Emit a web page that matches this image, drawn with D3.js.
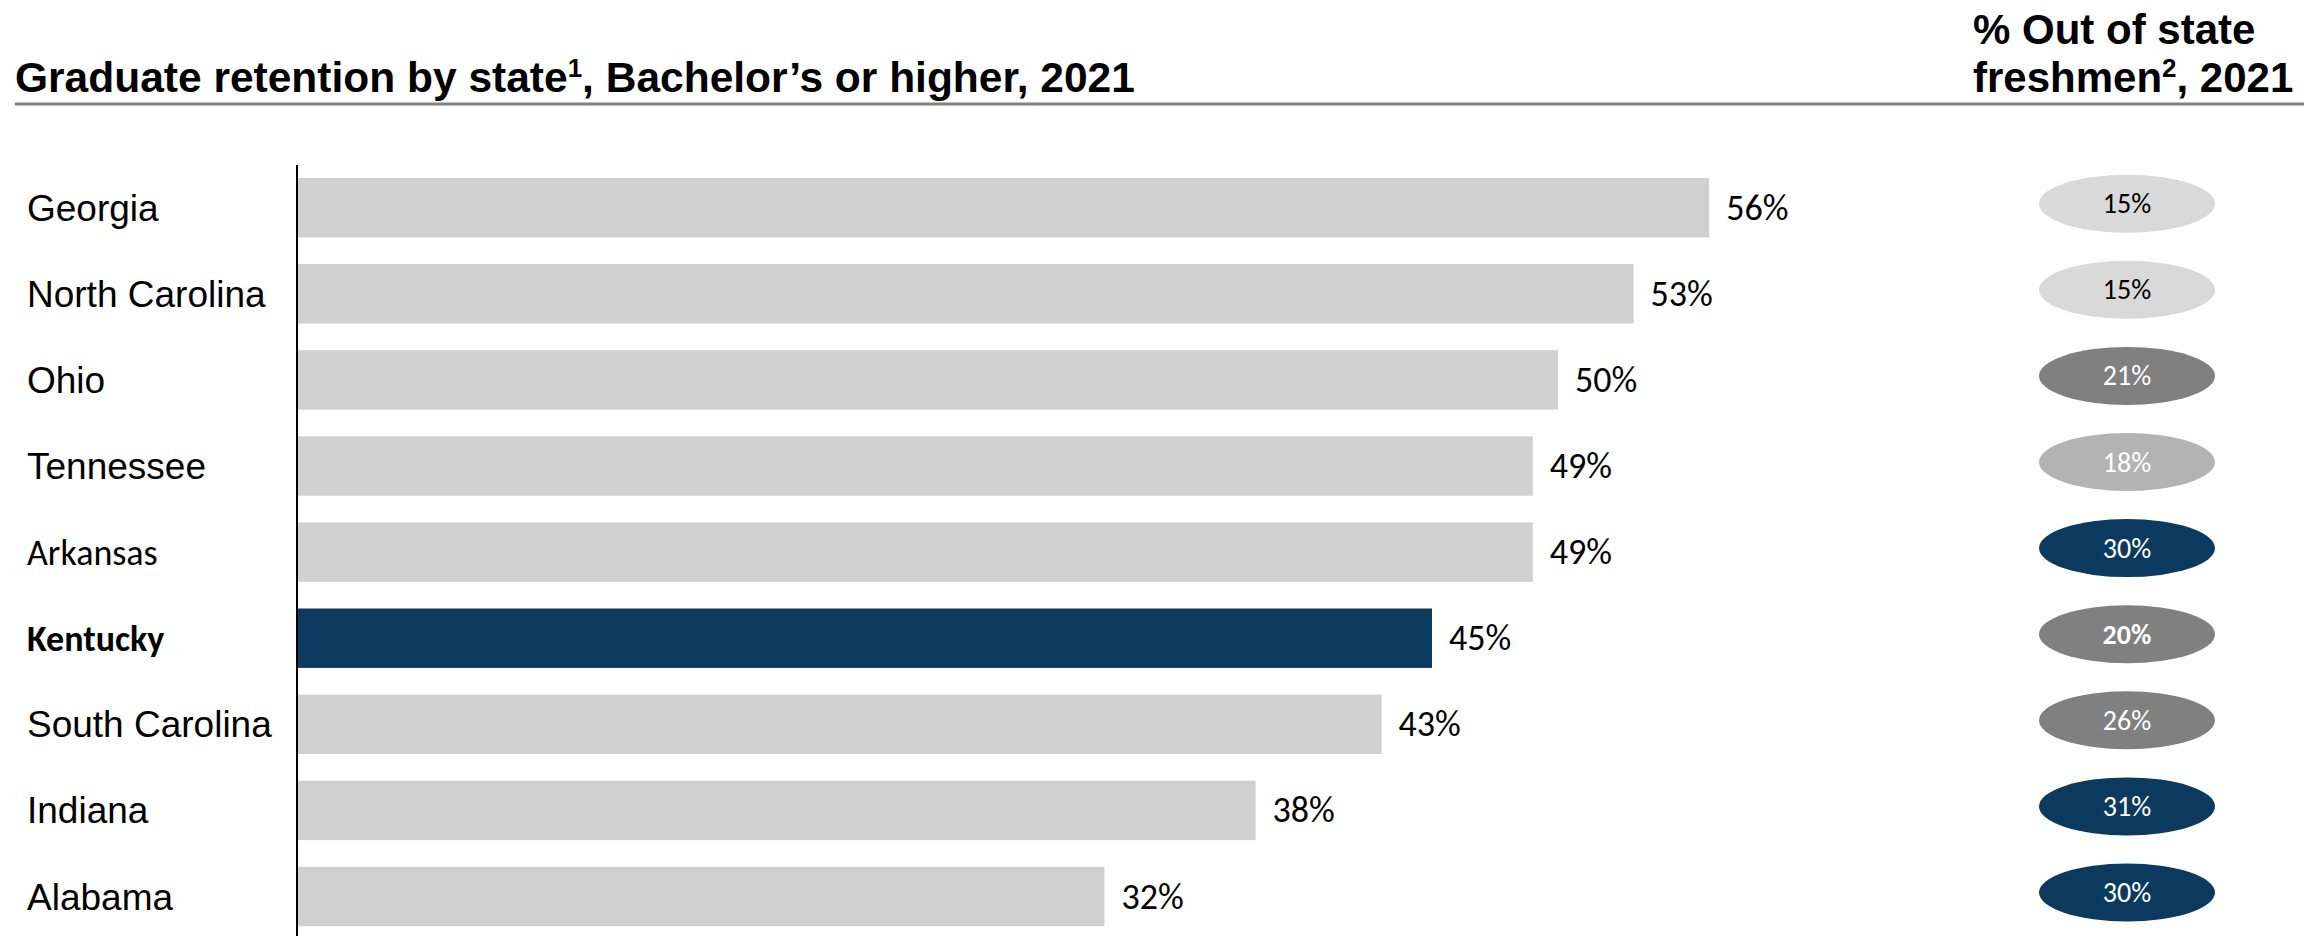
<!DOCTYPE html>
<html>
<head>
<meta charset="utf-8">
<script src="https://cdn.jsdelivr.net/npm/d3@7"></script>
<style>
  html, body { margin: 0; padding: 0; background: #ffffff; }
  svg { display: block; }
</style>
</head>
<body>
<script>
// Graduate retention by state (Bachelor's or higher, 2021) with share of out-of-state freshmen
const states = ["Georgia", "North Carolina", "Ohio", "Tennessee", "Arkansas", "Kentucky", "South Carolina", "Indiana", "Alabama"];
const retention = [56, 53, 50, 49, 49, 45, 43, 38, 32];
const outOfState = [15, 15, 21, 18, 30, 20, 26, 31, 30];
const highlight = "Kentucky";
const calibriStates = ["Arkansas", "Kentucky"];

const W = 2323, H = 936;
const navy = "#0b3a5e";
const sansArial = "'Liberation Sans', Arial, sans-serif";
const sansCal = "Carlito, Calibri, Lato, sans-serif";

const rows = states.map((s, i) => ({ state: s, ret: retention[i], oos: outOfState[i] }));

const svg = d3.select("body").append("svg")
  .attr("width", W).attr("height", H);

// scales
const x = d3.scaleLinear().domain([0, 60]).range([298, 298 + 60 * 25.2]);
const y = d3.scaleBand().domain(states)
  .range([164.65, 939.55]).paddingInner(0.31).paddingOuter(0.155);
const ovalFill = d3.scaleThreshold().domain([16, 19, 28])
  .range(["#d9d9d9", "#b3b3b3", "#808080", navy]);
const ovalText = d3.scaleThreshold().domain([16])
  .range(["#000000", "#ffffff"]);

// headers
const title = svg.append("text")
  .attr("x", 15).attr("y", 92)
  .attr("font-family", sansArial).attr("font-weight", "bold")
  .attr("font-size", 42.5).attr("fill", "#000");
title.append("tspan").text("Graduate retention by state");
title.append("tspan").attr("baseline-shift", "super").attr("font-size", 26).text("1");
title.append("tspan").text(", Bachelor\u2019s or higher, 2021");

const rt = svg.append("text")
  .attr("font-family", sansArial).attr("font-weight", "bold")
  .attr("font-size", 42).attr("fill", "#000");
rt.append("tspan").attr("x", 1973).attr("y", 44).text("% Out of state");
const rt2 = rt.append("tspan").attr("x", 1973).attr("y", 92);
rt2.text("freshmen");
rt.append("tspan").attr("baseline-shift", "super").attr("font-size", 26).text("2");
rt.append("tspan").text(", 2021");

svg.append("line")
  .attr("x1", 15).attr("x2", 2304).attr("y1", 104).attr("y2", 104)
  .attr("stroke", "#808080").attr("stroke-width", 3);

// bars
svg.append("g").selectAll("rect").data(rows).join("rect")
  .attr("x", x(0))
  .attr("y", d => y(d.state))
  .attr("width", d => x(d.ret) - x(0))
  .attr("height", y.bandwidth())
  .attr("fill", d => d.state === highlight ? navy : "#d0d0d0");

// vertical axis line
svg.append("line")
  .attr("x1", x(0) - 1).attr("x2", x(0) - 1)
  .attr("y1", 165).attr("y2", H)
  .attr("stroke", "#000").attr("stroke-width", 2);

// state labels
svg.append("g").selectAll("text").data(rows).join("text")
  .attr("x", 27)
  .attr("y", d => y(d.state) + y.bandwidth() / 2 + 13)
  .attr("font-family", d => calibriStates.includes(d.state) ? sansCal : sansArial)
  .attr("font-size", d => calibriStates.includes(d.state) ? 36 : 37)
  .attr("font-weight", d => d.state === highlight ? "bold" : "normal")
  .attr("fill", "#000")
  .text(d => d.state);

// value labels
svg.append("g").selectAll("text").data(rows).join("text")
  .attr("x", d => x(d.ret) + 17)
  .attr("y", d => y(d.state) + y.bandwidth() / 2 + 12)
  .attr("font-family", sansCal).attr("font-size", 36)
  .attr("fill", "#000")
  .text(d => d.ret + "%");

// out-of-state ovals
const ov = svg.append("g").selectAll("g").data(rows).join("g")
  .attr("transform", d => `translate(2127,${y(d.state) + y.bandwidth() / 2 - 4})`);
ov.append("ellipse")
  .attr("rx", 88).attr("ry", 29)
  .attr("fill", d => ovalFill(d.oos));
ov.append("text")
  .attr("text-anchor", "middle")
  .attr("y", 9.5)
  .attr("font-family", sansCal).attr("font-size", 28)
  .attr("font-weight", d => d.state === highlight ? "bold" : "normal")
  .attr("fill", d => ovalText(d.oos))
  .text(d => d.oos + "%");
</script>
</body>
</html>
